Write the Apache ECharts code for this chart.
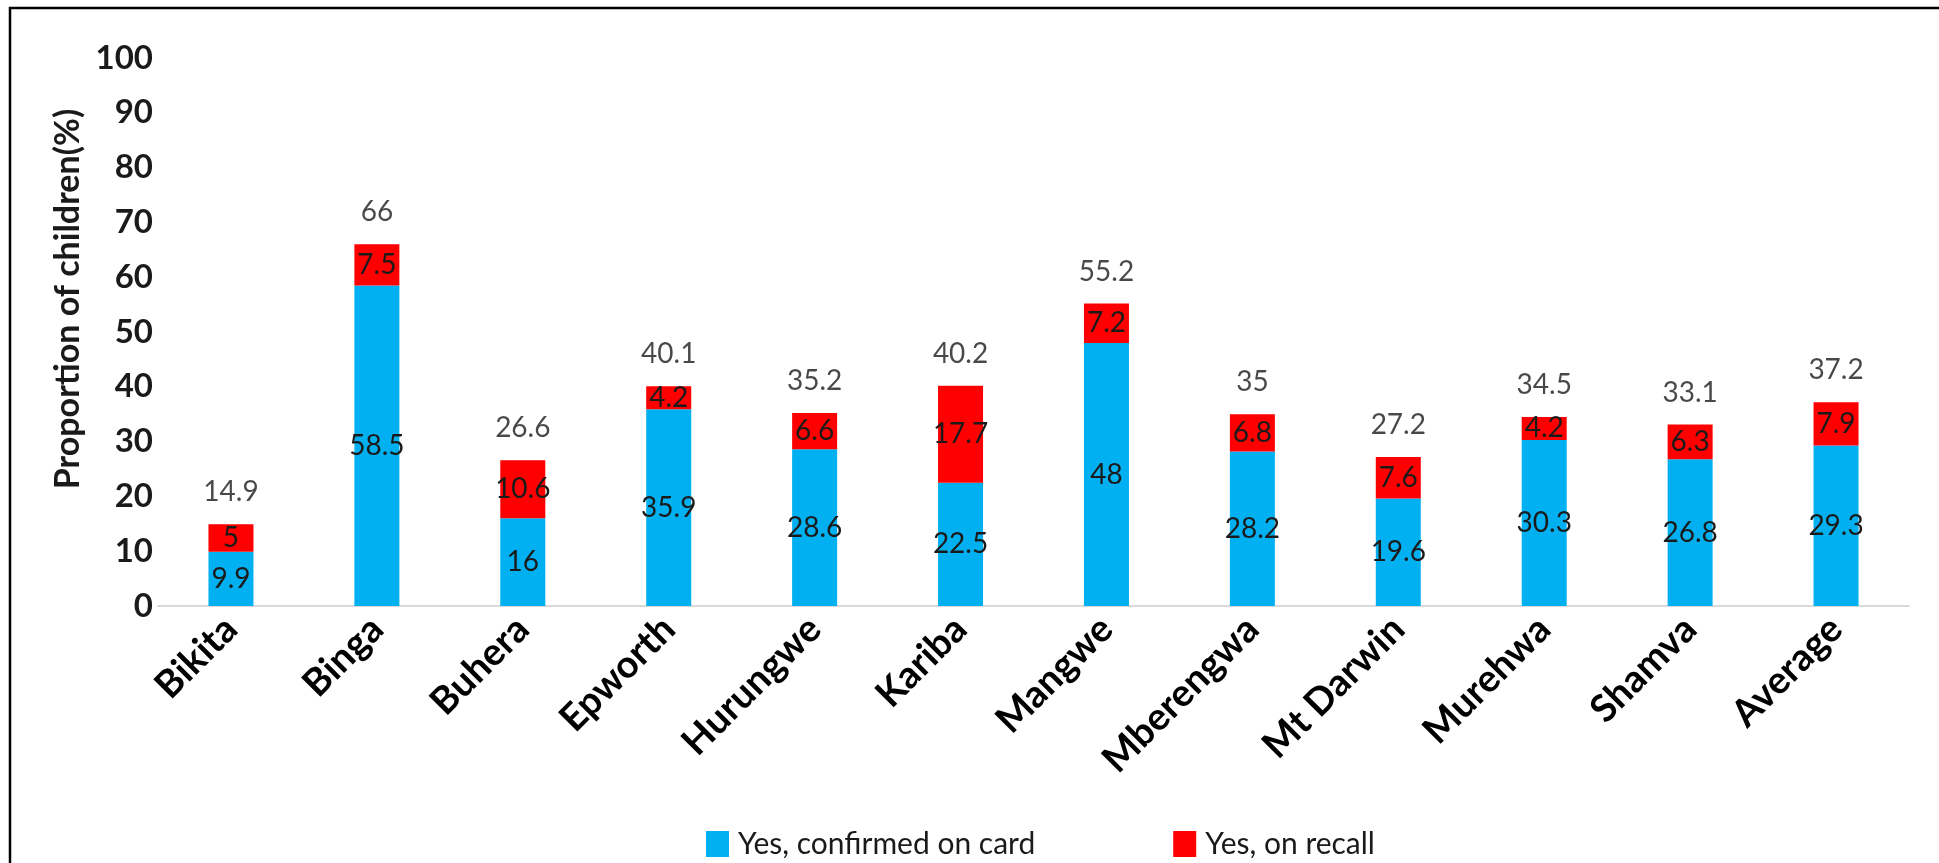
<!DOCTYPE html>
<html>
<head>
<meta charset="utf-8">
<script src="https://cdn.jsdelivr.net/npm/echarts@6/dist/echarts.min.js"></script>
<style>
html,body{margin:0;padding:0;background:#fff;}
#chart{width:1939px;height:863px;}
</style>
</head>
<body>
<div id="chart"></div>
<script>
const categories = ['Bikita','Binga','Buhera','Epworth','Hurungwe','Kariba','Mangwe','Mberengwa','Mt Darwin','Murehwa','Shamva','Average'];
const confirmedOnCard = [9.9, 58.5, 16, 35.9, 28.6, 22.5, 48, 28.2, 19.6, 30.3, 26.8, 29.3];
const onRecall = [5, 7.5, 10.6, 4.2, 6.6, 17.7, 7.2, 6.8, 7.6, 4.2, 6.3, 7.9];
const totals = [14.9, 66, 26.6, 40.1, 35.2, 40.2, 55.2, 35, 27.2, 34.5, 33.1, 37.2];
const yTicks = { min: 0, max: 100, interval: 10 };
const seriesNames = ['Yes, confirmed on card', 'Yes, on recall'];

const chart = echarts.init(document.getElementById('chart'), null, {renderer: 'canvas'});
const labelStyle = { show: true, position: 'inside', fontFamily: 'Lato', fontSize: 28, color: '#1a1a1a' };
chart.setOption({
  animation: false,
  backgroundColor: '#ffffff',
  graphic: [{
    type: 'rect', silent: true, z: 100,
    shape: { x: 10, y: 8, width: 2000, height: 1000 },
    style: { fill: 'none', stroke: '#000', lineWidth: 2.5 }
  }],
  grid: { left: 158, right: 30, top: 58, bottom: 257, containLabel: false },
  legend: {
    data: seriesNames,
    left: 706, top: 829,
    icon: 'rect', itemWidth: 23, itemHeight: 26, itemGap: 138, padding: 0,
    textStyle: { fontFamily: 'Lato', fontSize: 30, color: '#1a1a1a', padding: [0, 0, 0, 4] }
  },
  xAxis: {
    type: 'category',
    data: categories,
    axisLine: { show: true, lineStyle: { color: '#d9d9d9', width: 2 } },
    axisTick: { show: false },
    axisLabel: { rotate: 45, margin: 17, interval: 0, fontFamily: 'Lato', fontWeight: 'bold', fontSize: 38, color: '#000' }
  },
  yAxis: {
    type: 'value',
    min: yTicks.min, max: yTicks.max, interval: yTicks.interval,
    name: 'Proportion of children(%)',
    nameLocation: 'middle', nameGap: 73, nameRotate: 90,
    nameTextStyle: { fontFamily: 'Lato', fontWeight: 'bold', fontSize: 34, color: '#1a1a1a', padding: [0, 0, 0, 66] },
    axisLine: { show: false },
    axisTick: { show: false },
    splitLine: { show: false },
    axisLabel: { margin: 5, fontFamily: 'Lato', fontWeight: 'bold', fontSize: 33, color: '#1a1a1a' }
  },
  series: [
    {
      name: seriesNames[0], type: 'bar', stack: 'total', barWidth: 45,
      data: confirmedOnCard,
      itemStyle: { color: '#00B0F0' },
      label: labelStyle
    },
    {
      name: seriesNames[1], type: 'bar', stack: 'total', barWidth: 45,
      data: onRecall,
      itemStyle: { color: '#FF0000' },
      label: labelStyle
    },
    {
      name: 'Total', type: 'scatter', symbolSize: 0,
      data: totals,
      label: { show: true, position: 'top', distance: 18, fontFamily: 'Lato', fontSize: 28, color: '#1a1a1a' },
      silent: true
    }
  ]
});
</script>
</body>
</html>
